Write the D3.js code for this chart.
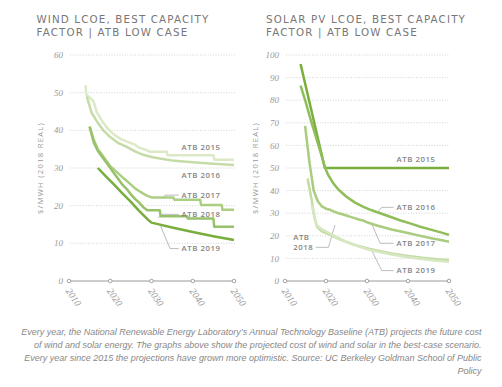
<!DOCTYPE html>
<html>
<head>
<meta charset="utf-8">
<script src="https://cdn.jsdelivr.net/npm/d3@7"></script>
<style>
  body { margin: 0; background: #fff; }
  svg { display: block; }
</style>
</head>
<body>
<div id="chart"></div>
<script>
// ---- data ----
var decades = [2010, 2020, 2030, 2040, 2050];
var windTicks = [0, 10, 20, 30, 40, 50, 60];
var solarTicks = [0, 10, 20, 30, 40, 50, 60, 70, 80, 90, 100];
var seriesNames = ["ATB 2015", "ATB 2016", "ATB 2017", "ATB 2018", "ATB 2019"];

var wind2015 = [[2014,52],[2014.2,49.5],[2015.9,47.8],[2016.7,44.9],[2018,42.5],[2019,41],[2020,39.8],[2021,38.8],[2022.4,37.8],[2024,37],[2025,36.6],[2026,36.2],[2027,35.4],[2028.9,34.7],[2029.7,34.3],[2033.7,34.3],[2033.9,33.4],[2045,33.4],[2045.3,32.2],[2050,32.2]];
var wind2016 = [[2014.3,49],[2015.5,44.6],[2017,42],[2018.3,40],[2020,38.2],[2022,36.6],[2024,35.6],[2026,34.4],[2028,33.5],[2030,32.9],[2032,32.5],[2035,32],[2037,31.8],[2040,31.5],[2045,31.1],[2050,30.8]];
var wind2017 = [[2015,41],[2016,37.5],[2017,35],[2018,33.5],[2019,32],[2020,30.5],[2021,29.5],[2022,28.5],[2023,27.5],[2024,26.6],[2025,25.6],[2026,24.6],[2027,23.9],[2028,23.2],[2029,22.6],[2030,22.2],[2035.3,22.2],[2035.5,21.6],[2041.8,21.6],[2042,20.2],[2047,20.2],[2047.2,18.9],[2050,18.9]];
var wind2018 = [[2015,41],[2016,36.8],[2017,34.5],[2018,33],[2019,31.5],[2020,30],[2021,28.5],[2022,27],[2023,25.5],[2024,24.4],[2025,23],[2026,21.8],[2027,20.8],[2028,19.6],[2029,18.8],[2032,18.8],[2032.2,17.2],[2038.6,17.2],[2038.8,16.6],[2045,16.6],[2045.2,14.4],[2050,14.4]];
var wind2019 = [[2017,30],[2019,27.7],[2021,25.5],[2023,23.2],[2025,21],[2027,18.6],[2029,16.4],[2030,15.5],[2035,14.2],[2040,13],[2045,11.9],[2050,10.9]];

var solar2015 = [[2013.8,96],[2019.7,50],[2050,50]];
var solar2016 = [[2013.8,86.5],[2015,79.5],[2016,73],[2017,67],[2018,61],[2019,55],[2019.8,50],[2020.5,47],[2021.8,43.2],[2023,40.5],[2025,37.3],[2027,34.8],[2029,32.9],[2031,31.4],[2033.2,30],[2036,28.2],[2038,26.9],[2040.5,25.5],[2043,24],[2046,22.5],[2048,21.5],[2050,20.4]];
var solar2017 = [[2014.9,68.6],[2016,52],[2017,40],[2018,35.3],[2019,33],[2020,32],[2021,31.5],[2022,30.7],[2023,30],[2024,29.5],[2025,29],[2026,28.4],[2027,27.8],[2028,27.2],[2029,26.8],[2030,26],[2032,24.8],[2034,23.8],[2036,22.8],[2038,22],[2040,21.2],[2042,20.4],[2044,19.6],[2046,18.8],[2048,18.1],[2050,17.4]];
var solar2018 = [[2015.5,45.4],[2016.5,36],[2017.2,28],[2017.8,24],[2019,22],[2021,20.4],[2023,18.7],[2025,17.3],[2027,16],[2029,15],[2030.7,14.2],[2033,13.3],[2036,12.2],[2040,11.1],[2044,10.2],[2047,9.6],[2050,9.2]];
var solar2019 = [[2016.5,33.6],[2017.7,24.8],[2019,22.8],[2020.1,21.8],[2022,20],[2024,18.2],[2026,16.6],[2028,15.2],[2030.7,13.7],[2033,12.8],[2036,11.7],[2040,10.5],[2044,9.6],[2047,9],[2050,8.5]];

var windColors = ["#dce9c7", "#c6dca6", "#acce82", "#97c26a", "#79ae3f"];
var solarColors = ["#79ae3f", "#8fbd58", "#a9cc7f", "#c3dca2", "#d7e7c1"];

// label positions in data units [year, value], leaders as [year,value] points
var windLabels = [
  {text: ["ATB 2015"], at: [2037.3, 35.6], leader: null},
  {text: ["ATB 2016"], at: [2037.3, 28.1], leader: null},
  {text: ["ATB 2017"], at: [2037.3, 22.8], leader: [[2032.5,21.9],[2033.3,22.8],[2036.6,22.8]]},
  {text: ["ATB 2018"], at: [2037.3, 17.7], leader: [[2031.6,16.7],[2032.5,17.7],[2036.6,17.7]]},
  {text: ["ATB 2019"], at: [2037.3, 8.6], leader: [[2032.1,14.9],[2034.5,8.6],[2036.6,8.6]]}
];
var solarLabels = [
  {text: ["ATB 2015"], at: [2037.2, 54], leader: null},
  {text: ["ATB 2016"], at: [2037.2, 32.6], leader: [[2032.7,30.7],[2033.6,32.6],[2036.5,32.6]]},
  {text: ["ATB 2017"], at: [2037.2, 16.7], leader: [[2031.1,25.5],[2033.2,16.7],[2036.5,16.7]]},
  {text: ["ATB 2019"], at: [2037.2, 4.6], leader: [[2031.1,13.7],[2033.6,4.6],[2036.5,4.6]]},
  {text: ["ATB", "2018"], at: [2012, 17.3], leader: [[2017.5,14.9],[2020.6,14.9],[2022.2,24.8]]}
];

var caption = [
  "Every year, the National Renewable Energy Laboratory\u2019s Annual Technology Baseline (ATB) projects the future cost",
  "of wind and solar energy. The graphs above show the projected cost of wind and solar in the best-case scenario.",
  "Every year since 2015 the projections have grown more optimistic. Source: UC Berkeley Goldman School of Public",
  "Policy"
];

var width = 502, height = 387;

var svg = d3.select("#chart").append("svg")
    .attr("width", width)
    .attr("height", height);

function drawPanel(opts){
    var g = svg.append("g");

    var x = d3.scaleLinear().domain([2010, 2050]).range([opts.x0, opts.x1]);
    var y = d3.scaleLinear().domain([0, opts.max]).range([281, 55]);

    // title
    g.selectAll("text.title")
        .data(opts.title)
        .enter().append("text")
        .attr("class", "title")
        .attr("x", opts.titleX)
        .attr("y", function(d, i){ return 22.7 + i*13.1; })
        .attr("font-family", "DejaVu Sans, sans-serif")
        .attr("font-size", "10.3px")
        .attr("letter-spacing", "1.15px")
        .attr("fill", "#777")
        .text(function(d){ return d; });

    // y axis title
    g.append("text")
        .attr("transform", "translate(" + opts.labelX + ",168) rotate(-90)")
        .attr("text-anchor", "middle")
        .attr("font-family", "Open Sans, sans-serif")
        .attr("font-size", "7.6px")
        .attr("letter-spacing", "1.3px")
        .attr("fill", "#999")
        .text("$/MWH (2018 REAL)");

    // grid lines
    g.selectAll("line.grid")
        .data(opts.ticks.filter(function(t){ return t > 0; }))
        .enter().append("line")
        .attr("class", "grid")
        .attr("x1", opts.x0 + 1)
        .attr("x2", opts.x1 + 1)
        .attr("y1", function(d){ return y(d); })
        .attr("y2", function(d){ return y(d); })
        .attr("stroke", "#c8c8c8")
        .attr("stroke-width", 0.8)
        .attr("stroke-dasharray", "1,1.6");

    // y tick labels
    g.selectAll("text.ytick")
        .data(opts.ticks)
        .enter().append("text")
        .attr("class", "ytick")
        .attr("x", opts.x0 - 6)
        .attr("y", function(d){ return y(d); })
        .attr("dy", "0.35em")
        .attr("text-anchor", "end")
        .attr("font-family", "Liberation Serif, serif")
        .attr("font-style", "italic")
        .attr("font-size", "9px")
        .attr("fill", "#999")
        .text(function(d){ return d; });

    // base axis
    g.append("line")
        .attr("x1", x(2010)).attr("x2", x(2050))
        .attr("y1", y(0)).attr("y2", y(0))
        .attr("stroke", "#9a9a9a")
        .attr("stroke-width", 1);

    g.selectAll("circle.tick")
        .data(decades)
        .enter().append("circle")
        .attr("class", "tick")
        .attr("cx", function(d){ return x(d); })
        .attr("cy", y(0))
        .attr("r", 1.8)
        .attr("fill", "#fff")
        .attr("stroke", "#9a9a9a")
        .attr("stroke-width", 0.9);

    g.selectAll("text.xtick")
        .data(decades)
        .enter().append("text")
        .attr("class", "xtick")
        .attr("transform", function(d){ return "translate(" + (x(d) - 1) + "," + (y(0) + 8) + ") rotate(55)"; })
        .attr("dy", "0.35em")
        .attr("font-family", "Liberation Serif, serif")
        .attr("font-style", "italic")
        .attr("font-size", "9.8px")
        .attr("fill", "#999")
        .text(function(d){ return d; });

    // leaders
    var line = d3.line()
        .x(function(d){ return x(d[0]); })
        .y(function(d){ return y(d[1]); });

    g.selectAll("path.leader")
        .data(opts.labels.filter(function(l){ return l.leader; }))
        .enter().append("path")
        .attr("class", "leader")
        .attr("d", function(d){ return line(d.leader); })
        .attr("fill", "none")
        .attr("stroke", "#aaa")
        .attr("stroke-width", 0.8);

    // series
    g.selectAll("path.series")
        .data(opts.series)
        .enter().append("path")
        .attr("class", "series")
        .attr("d", function(d){ return line(d); })
        .attr("fill", "none")
        .attr("stroke", function(d, i){ return opts.colors[i]; })
        .attr("stroke-width", 2.5)
        .attr("stroke-linejoin", "round")
        .attr("stroke-linecap", "butt");

    // series labels
    var lab = g.selectAll("text.label")
        .data(opts.labels)
        .enter().append("text")
        .attr("class", "label")
        .attr("x", function(d){ return x(d.at[0]); })
        .attr("y", function(d){ return y(d.at[1]); })
        .attr("text-anchor", "start")
        .attr("font-family", "Open Sans, sans-serif")
        .attr("font-weight", 600)
        .attr("font-size", "7.8px")
        .attr("letter-spacing", "0.55px")
        .attr("fill", "#858585");

    lab.selectAll("tspan")
        .data(function(d){ return d.text.map(function(t){ return {t: t, x: x(d.at[0]), n: d.text.length}; }); })
        .enter().append("tspan")
        .attr("x", function(d){ return d.x; })
        .attr("dy", function(d, i){ return i === 0 ? (d.n > 1 ? "-0.3em" : "0.35em") : "1.3em"; })
        .text(function(d){ return d.t; });
}

drawPanel({
    title: ["WIND LCOE, BEST CAPACITY", "FACTOR | ATB LOW CASE"],
    titleX: 36.5,
    labelX: 43,
    x0: 69, x1: 234,
    max: 60,
    ticks: windTicks,
    series: [wind2015, wind2016, wind2017, wind2018, wind2019],
    colors: windColors,
    labels: windLabels
});

drawPanel({
    title: ["SOLAR PV LCOE, BEST CAPACITY", "FACTOR | ATB LOW CASE"],
    titleX: 266,
    labelX: 258,
    x0: 285, x1: 449,
    max: 100,
    ticks: solarTicks,
    series: [solar2015, solar2016, solar2017, solar2018, solar2019],
    colors: solarColors,
    labels: solarLabels
});

// caption
svg.append("g").selectAll("text")
    .data(caption)
    .enter().append("text")
    .attr("x", 481.5)
    .attr("y", function(d, i){ return 334.5 + i*13; })
    .attr("text-anchor", "end")
    .attr("font-family", "Liberation Sans, Arial, sans-serif")
    .attr("font-style", "italic")
    .attr("font-size", "9px")
    .attr("fill", "#888")
    .text(function(d){ return d; });
</script>
</body>
</html>
